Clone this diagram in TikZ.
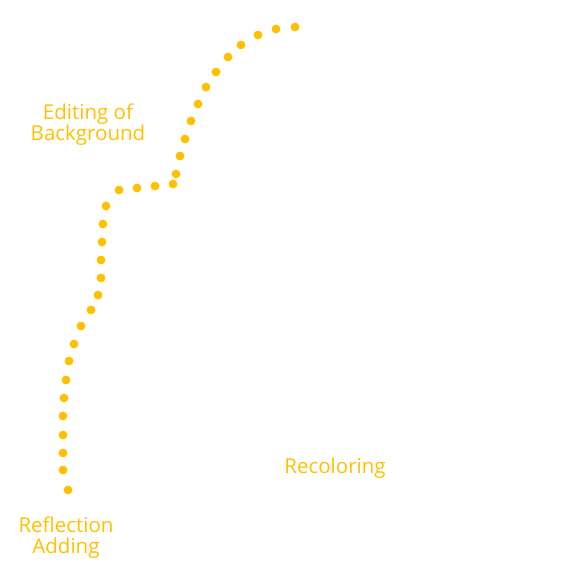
\documentclass[tikz,border=0pt]{standalone}
\usepackage{fontspec}
\setmainfont{Open Sans}
\definecolor{gold}{HTML}{FFC000}
\begin{document}
\begin{tikzpicture}[x=1pt,y=-1pt,
  lbl/.style={text=gold,font=\fontsize{20.5}{21}\selectfont,align=center,inner sep=0pt},
  dot/.style={fill=gold,draw=none}]
\useasboundingbox[fill=white] (0,0) rectangle (575,575);
\foreach \x/\y in {295/27,276/29,258/35,241/45,228/57,216/72,206/87,198/104,191/121,185/139,180/156,176/174,173/184,155/186,137/188,119/190,106/206,103/224,102/242,101/260,101/278,98/295,91/310,81/326,74/344,69/361,66/380,64/398,63/416,63/435,63/453,63/470,68/490}{
  \fill[gold] (\x,\y) circle (4.4);
}
\node[lbl] (bg) at (88,124.5) {Editing of\\Background};
\node[lbl] (rf) at (66,538) {Reflection\\Adding};
\node[lbl] (rc) at (335,468) {Recoloring};
\end{tikzpicture}
\end{document}
